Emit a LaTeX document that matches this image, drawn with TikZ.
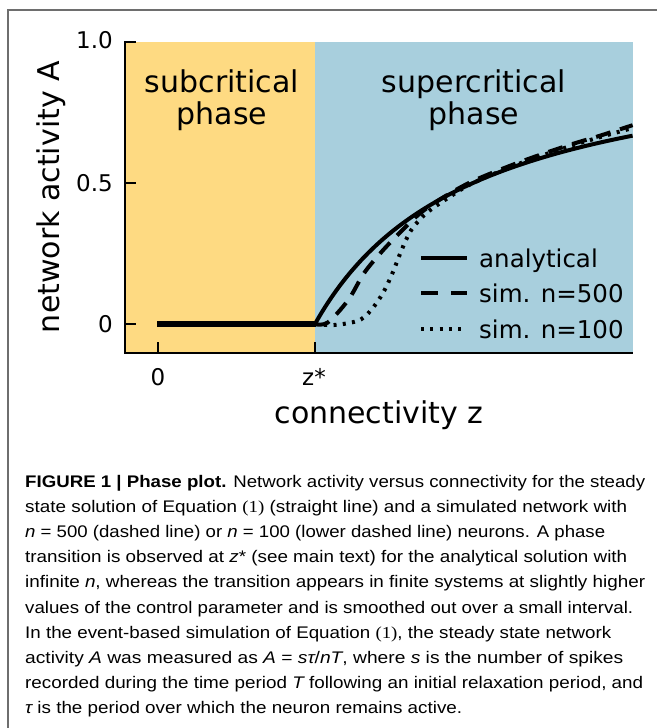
\documentclass[tikz,border=0pt]{standalone}
\usepackage{fontspec}
\usepackage{graphicx}
\setmainfont{DejaVu Sans}
\newfontfamily\capfont{Liberation Sans}
\newfontfamily\capserif{Liberation Serif}
\definecolor{subc}{RGB}{254,218,130}
\definecolor{supc}{RGB}{168,207,221}
\definecolor{framec}{RGB}{110,110,110}
\tikzset{
  axisline/.style={line width=2.6pt, line cap=butt},
  tickline/.style={line width=2.4pt},
  ticklab/.style={font=\fontsize{23}{27}\selectfont, inner sep=0pt},
  biglab/.style={font=\fontsize{30}{36}\selectfont, inner sep=0pt},
  leglab/.style={font=\fontsize{24.5}{29}\selectfont, inner sep=0pt, anchor=base west},
  anacurve/.style={line width=4pt, line join=round},
  dashcurve/.style={line width=4pt, dash pattern=on 15pt off 10pt},
  dotcurve/.style={line width=4pt, dash pattern=on 3pt off 6.3pt},
  capline/.style={anchor=base west, inner sep=0pt, font=\capfont\fontsize{16.8}{20}\selectfont},
}
\newcommand{\fitw}[2]{\resizebox{#1}{\height}{#2}}
\begin{document}
\begin{tikzpicture}[x=1pt,y=-1pt]
\useasboundingbox (0,0) rectangle (657,728);
% frame
\draw[framec, line width=1.5pt] (8,728) -- (8,10) -- (657,10);
% phase regions
\fill[subc] (125,42) rectangle (315,353);
\fill[supc] (315,42) rectangle (633,353);
% axes
\draw[axisline] (125,41) -- (125,353) -- (633,353);
\draw[tickline] (125,42) -- (136,42);
\draw[tickline] (125,183) -- (136,183);
\draw[tickline] (125,324) -- (136,324);
\draw[tickline] (158,353) -- (158,342);
\draw[tickline] (315,353) -- (315,342);
% tick labels
\node[ticklab, anchor=east] (y10) at (113,40) {1.0};
\node[ticklab, anchor=east] (y05) at (113,183) {0.5};
\node[ticklab, anchor=east] (y00) at (113,324) {0};
\node[ticklab] (x0) at (158,377) {0};
\node[ticklab] (xs) at (314,377) {z*};
% axis labels
\node[biglab, rotate=90] (ylab) at (51,197) {network activity A};
\node[biglab, anchor=base] (xlab) at (379,423) {connectivity z};
% phase labels
\node[biglab, anchor=base] (sub1) at (222,92) {subcritical};
\node[biglab, anchor=base] (sub2) at (222,124) {phase};
\node[biglab, anchor=base] (sup1) at (474,92) {supercritical};
\node[biglab, anchor=base] (sup2) at (474,124) {phase};
% curves
\begin{scope}[shift={(157,324)}, x=158pt, y=282pt]
\draw[dotcurve] plot[smooth, tension=0.55] coordinates {(1.0,0) (1.11,-0.004) (1.22,0.004) (1.29,0.016) (1.34,0.04) (1.39,0.075) (1.44,0.12) (1.49,0.18) (1.55,0.265) (1.6,0.325) (1.65,0.362) (1.72,0.4) (1.85,0.45) (2.0,0.5) (2.3,0.57) (2.6,0.628) (2.8,0.662) (3.01,0.695)};
\draw[dashcurve] plot[smooth, tension=0.55] coordinates {(1.0,0) (1.08,0.005) (1.21,0.085) (1.31,0.18) (1.42,0.255) (1.53,0.32) (1.66,0.39) (1.8,0.445) (2.0,0.507) (2.3,0.575) (2.6,0.633) (2.8,0.667) (3.01,0.705)};
\draw[anacurve] plot[domain=1:3.01, samples=90] (\x,{1-1/\x});
\draw[line width=5.5pt] (0,0) -- (1.005,0);
\end{scope}
% legend
\coordinate (la1) at (421,258); \coordinate (la2) at (467,258);
\coordinate (lb1) at (421,293); \coordinate (lb2) at (467,293);
\coordinate (lc1) at (421,329); \coordinate (lc2) at (467,329);
\draw[anacurve] (la1) -- (la2);
\draw[line width=4pt, dash pattern=on 17pt off 13pt] (lb1) -- (lb2);
\draw[dotcurve] (lc1) -- (lc2);
\node[leglab] (ta) at (479,267) {analytical};
\node[leglab] (tb) at (479,302) {sim. n=500};
\node[leglab] (tc) at (479,338) {sim. n=100};
% caption
\node[capline] (c1) at (25,487) {\fitw{620pt}{\textbf{FIGURE 1 | Phase plot.} Network activity versus connectivity for the steady}};
\node[capline] (c2) at (25,512.2) {\fitw{602pt}{state solution of Equation {\capserif(1)} (straight line) and a simulated network with}};
\node[capline] (c3) at (25,537.4) {\fitw{580pt}{{\itshape n} = 500 (dashed line) or {\itshape n} = 100 (lower dashed line) neurons. A phase}};
\node[capline] (c4) at (25,562.6) {\fitw{602pt}{transition is observed at {\itshape z}* (see main text) for the analytical solution with}};
\node[capline] (c5) at (25,587.8) {\fitw{620pt}{infinite {\itshape n}, whereas the transition appears in finite systems at slightly higher}};
\node[capline] (c6) at (25,613) {\fitw{608pt}{values of the control parameter and is smoothed out over a small interval.}};
\node[capline] (c7) at (25,638.2) {\fitw{586pt}{In the event-based simulation of Equation {\capserif(1)}, the steady state network}};
\node[capline] (c8) at (25,663.4) {\fitw{598pt}{activity {\itshape A} was measured as {\itshape A} = {\itshape sτ}/{\itshape nT}, where {\itshape s} is the number of spikes}};
\node[capline] (c9) at (25,688.6) {\fitw{618pt}{recorded during the time period {\itshape T} following an initial relaxation period, and}};
\node[capline] (c10) at (25,713.8) {\fitw{437pt}{{\itshape τ} is the period over which the neuron remains active.}};
\end{tikzpicture}
\end{document}
